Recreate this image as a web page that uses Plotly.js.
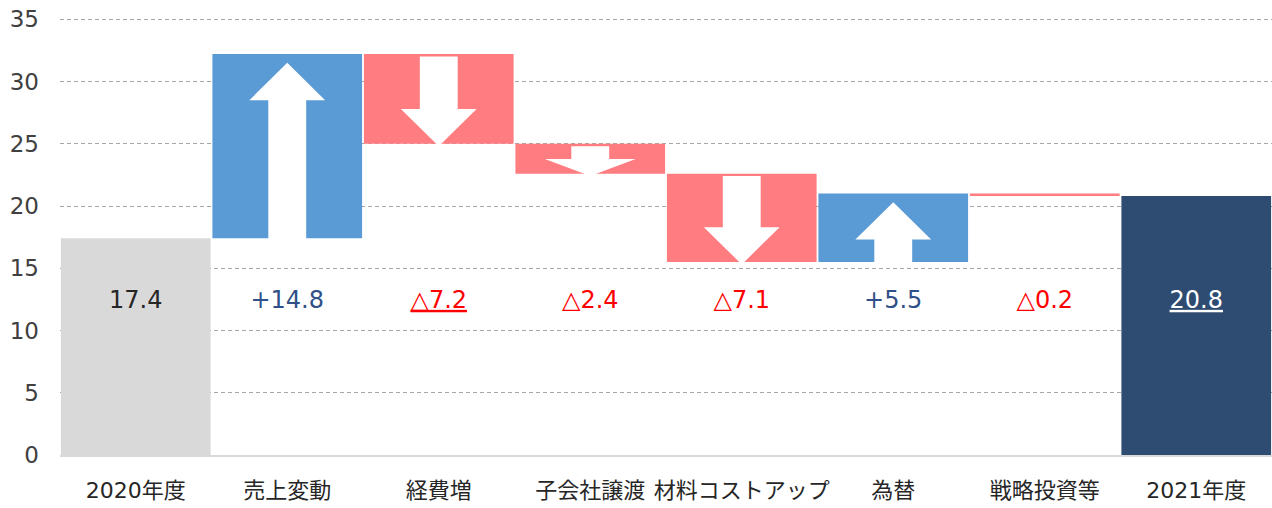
<!DOCTYPE html>
<html>
<head>
<meta charset="utf-8">
<script src="https://cdn.plot.ly/plotly-3.0.1.min.js"></script>
<style>html,body{margin:0;padding:0;background:#fff;}#chart{width:1272px;height:508px;}</style>
</head>
<body>
<div id="chart"></div>
<script>
// ---- data ----
const categories = ['2020年度', '売上変動', '経費増', '子会社譲渡', '材料コストアップ', '為替', '戦略投資等', '2021年度'];
const startValue = 17.4;
const deltas = [14.8, -7.2, -2.4, -7.1, 5.5, -0.2];
const endValue = 20.8;
const yTicks = [0, 5, 10, 15, 20, 25, 30, 35];
const underlinedLabels = ['経費増', '2021年度'];

// ---- styles ----
const COLOR_START = '#D9D9D9';
const COLOR_END = '#2E4C72';
const COLOR_UP = '#5B9BD5';
const COLOR_DOWN = '#FF7C80';
const TEXT_START = '#262626';
const TEXT_END = '#FFFFFF';
const TEXT_UP = '#2F5088';
const TEXT_DOWN = '#FF0000';
const FONT = '"DejaVu Sans", "Noto Sans CJK JP", sans-serif';
const LABEL_Y = 12.3;

// ---- build bars ----
const xs = categories.map((_, i) => i);
const barY = [], barBase = [], barColors = [], labels = [], labelColors = [];
barY.push(startValue); barBase.push(0); barColors.push(COLOR_START);
labels.push(startValue.toFixed(1)); labelColors.push(TEXT_START);
let cum = startValue;
const segs = [];
deltas.forEach((d, k) => {
  barY.push(d); barBase.push(cum);
  barColors.push(d >= 0 ? COLOR_UP : COLOR_DOWN);
  labels.push((d >= 0 ? '+' : '△') + Math.abs(d).toFixed(1));
  labelColors.push(d >= 0 ? TEXT_UP : TEXT_DOWN);
  segs.push({c: k + 1, s: cum, e: cum + d, d: d});
  cum += d;
});
barY.push(endValue); barBase.push(0); barColors.push(COLOR_END);
labels.push(endValue.toFixed(1)); labelColors.push(TEXT_END);

const labelTexts = labels.map((t, i) => underlinedLabels.includes(categories[i]) ? '<u>' + t + '</u>' : t);

// ---- arrows (decoration derived from bar extents) ----
const shapes = [];
segs.forEach(g => {
  const a = Math.abs(g.d);
  if (a < 1) return;
  const sw = 0.125;
  const hw = a < 3 ? 0.3 : 0.25;
  const L = Math.min(3.0, 0.57 * a);
  const c = g.c;
  let tail, tip, sh;
  if (g.d > 0) { tail = g.s - 0.3; tip = g.e - 0.7; sh = tip - L; }
  else { tail = g.s - 0.2; tip = g.e - 0.2; sh = tip + L; }
  const p = [[c - sw, tail], [c + sw, tail], [c + sw, sh], [c + hw, sh], [c, tip], [c - hw, sh], [c - sw, sh]];
  shapes.push({
    type: 'path', xref: 'x', yref: 'y',
    path: 'M' + p.map(q => q[0] + ',' + q[1]).join('L') + 'Z',
    fillcolor: '#FFFFFF', line: {width: 0}, layer: 'above'
  });
});

const bars = {
  type: 'bar', x: xs, y: barY, base: barBase,
  marker: {color: barColors, line: {width: 0}},
  width: 0.988, hoverinfo: 'skip', showlegend: false
};
const texts = {
  type: 'scatter', mode: 'text', x: xs, y: xs.map(() => LABEL_Y),
  text: labelTexts, textposition: 'middle center',
  textfont: {family: FONT, size: 24, color: labelColors},
  cliponaxis: false, hoverinfo: 'skip', showlegend: false
};

const layout = {
  width: 1272, height: 508,
  margin: {l: 60, r: 0, t: 18, b: 53},
  paper_bgcolor: '#FFFFFF', plot_bgcolor: '#FFFFFF',
  showlegend: false,
  barmode: 'overlay',
  xaxis: {
    range: [-0.5, 7.5], tickvals: xs, ticktext: categories,
    showgrid: false, zeroline: false,
    showline: true, linecolor: '#D9D9D9', linewidth: 1.5,
    ticks: '', ticklabelstandoff: 15,
    tickfont: {family: FONT, size: 22, color: '#262626'}, fixedrange: true
  },
  yaxis: {
    range: [0, 35.1], tickvals: yTicks,
    showgrid: true, gridcolor: '#A6A6A6', gridwidth: 1, griddash: '4px,3px',
    zeroline: false, showline: false, ticks: '', ticklabelstandoff: 20,
    tickfont: {family: FONT, size: 23, color: '#404040'}, fixedrange: true
  },
  shapes: shapes
};

Plotly.newPlot('chart', [bars, texts], layout, {displayModeBar: false, staticPlot: true});
</script>
</body>
</html>
